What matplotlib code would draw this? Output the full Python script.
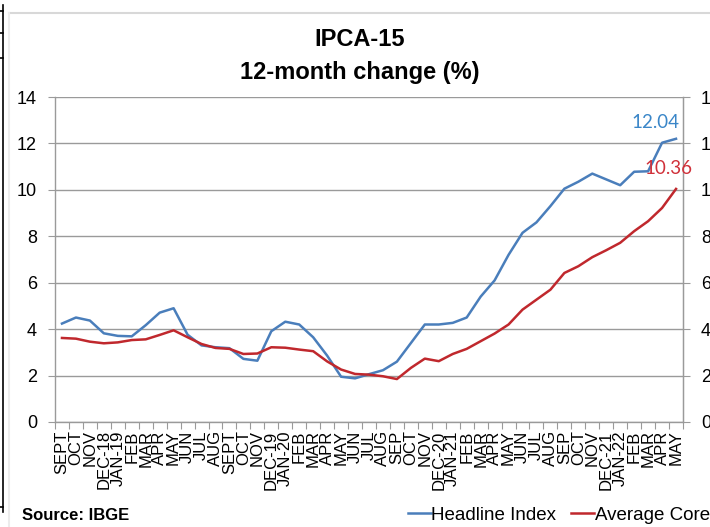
import matplotlib.pyplot as plt
import matplotlib.lines as mlines
import numpy as np

plt.rcParams['font.family'] = ['Liberation Sans', 'DejaVu Sans']

# --- Data ---
months = ["SEPT", "OCT", "NOV", "DEC-18", "JAN-19", "FEB", "MAR", "APR", "MAY", "JUN",
          "JUL", "AUG", "SEPT", "OCT", "NOV", "DEC-19", "JAN-20", "FEB", "MAR", "APR",
          "MAY", "JUN", "JUL", "AUG", "SEP", "OCT", "NOV", "DEC-20", "JAN-21", "FEB",
          "MAR", "APR", "MAY", "JUN", "JUL", "AUG", "SEP", "OCT", "NOV", "DEC-21",
          "JAN-22", "FEB", "MAR", "APR", "MAY"]

headline = [4.24, 4.50, 4.37, 3.82, 3.71, 3.69, 4.17, 4.71, 4.90, 3.76,
            3.30, 3.22, 3.18, 2.72, 2.64, 3.91, 4.32, 4.20, 3.65, 2.86,
            1.95, 1.88, 2.06, 2.23, 2.60, 3.40, 4.20, 4.20, 4.27, 4.50,
            5.40, 6.10, 7.20, 8.15, 8.60, 9.30, 10.05, 10.35, 10.70, 10.45,
            10.20, 10.78, 10.80, 12.03, 12.20]

core = [3.62, 3.59, 3.46, 3.39, 3.43, 3.53, 3.56, 3.75, 3.95, 3.65,
        3.36, 3.19, 3.15, 2.93, 2.95, 3.22, 3.20, 3.12, 3.05, 2.61,
        2.26, 2.07, 2.04, 1.97, 1.85, 2.33, 2.73, 2.62, 2.93, 3.15,
        3.48, 3.81, 4.20, 4.84, 5.27, 5.70, 6.42, 6.71, 7.10, 7.40,
        7.72, 8.22, 8.65, 9.22, 10.04]

label_headline = "12.04"
label_core = "10.36"
yticks = [0, 2, 4, 6, 8, 10, 12, 14]

blue = "#4a7ebb"
red = "#c0282d"
grid_c = "#9a9a9a"

fig = plt.figure(figsize=(7.10, 5.27), dpi=100)
ax = fig.add_axes([55 / 710, 105 / 527, 628 / 710, 325 / 527])

x = np.arange(len(months))
ax.plot(x, headline, color=blue, lw=1.8, solid_joinstyle='round')
ax.plot(x, core, color=red, lw=1.8, solid_joinstyle='round')

ax.set_xlim(-0.5, len(months) - 0.5)
ax.set_ylim(0, 14)
ax.set_yticks(yticks)
ax.set_yticklabels([str(v) for v in yticks], fontsize=13)
ax.yaxis.grid(True, color=grid_c, lw=1.0)
ax.set_axisbelow(True)

# category ticks between months, labels at centres
ax.set_xticks(np.arange(len(months) + 1) - 0.5)
ax.set_xticklabels([])
ax.set_xticks(x, minor=True)
ax.set_xticklabels(months, minor=True, rotation=90, fontsize=12, va='top')
ax.tick_params(axis='x', which='major', direction='out', length=5, color=grid_c)
ax.tick_params(axis='x', which='minor', length=0, pad=6)
ax.tick_params(axis='y', length=5, color=grid_c, pad=8)

ax.spines['top'].set_visible(False)
for s in ['left', 'bottom', 'right']:
    ax.spines[s].set_color(grid_c)
    ax.spines[s].set_linewidth(1.0)

ax2 = ax.twinx()
ax2.set_ylim(0, 14)
ax2.set_yticks(yticks)
ax2.set_yticklabels([str(v) for v in yticks], fontsize=13)
ax2.tick_params(axis='y', length=5, color=grid_c, pad=8)
for s in ['top', 'left', 'bottom']:
    ax2.spines[s].set_visible(False)
ax2.spines['right'].set_color(grid_c)

# end-point labels (on the twin axis so they sit above the right spine)
ax2.annotate(label_headline, (x[-1], headline[-1]), xytext=(-14.5, 11.5), textcoords='offset points',
             ha='center', va='center', color="#3a86c8", fontsize=13.5, family=['Lato', 'DejaVu Sans'],
             zorder=5)
ax2.annotate(label_core, (x[-1], core[-1]), xytext=(-5.8, 14.5), textcoords='offset points',
             ha='center', va='center', color="#d0313a", fontsize=13.5, family=['Lato', 'DejaVu Sans'],
             zorder=5)

# title
fig.text(360 / 710, 1 - 40 / 527, "IPCA-15", ha='center', va='center', fontsize=17, fontweight='bold')
fig.text(360 / 710, 1 - 72 / 527, "12-month change (%)", ha='center', va='center', fontsize=17,
         fontweight='bold')

# source and legend
fig.text(22 / 710, 1 - 516 / 527, "Source: IBGE", ha='left', va='center', fontsize=12, fontweight='bold')
h1 = mlines.Line2D([], [], color=blue, lw=1.8)
h2 = mlines.Line2D([], [], color=red, lw=1.8)
fig.legend([h1, h2], ["Headline Index", "Average Core"], loc='center left',
           bbox_to_anchor=(408 / 710, 1 - 515 / 527), ncol=2, frameon=False, fontsize=13.5,
           handlelength=1.2, handletextpad=0.05, columnspacing=0.8, borderpad=0, borderaxespad=0)

# screenshot frame remnants
fig.add_artist(mlines.Line2D([3 / 710, 3 / 710], [1 - 5 / 527, 1 - 512 / 527], color='black', lw=1.2))
for yy in [11, 33, 58, 507]:
    fig.add_artist(mlines.Line2D([0, 3 / 710], [1 - yy / 527, 1 - yy / 527], color='black', lw=1.2))
fig.add_artist(mlines.Line2D([9 / 710, 1], [1 - 13 / 527, 1 - 13 / 527], color='#d8d8d8', lw=1.5))
fig.add_artist(mlines.Line2D([9 / 710, 9 / 710], [1 - 13 / 527, 0], color='#ececec', lw=1.5))

fig.savefig("out.png", dpi=100)
